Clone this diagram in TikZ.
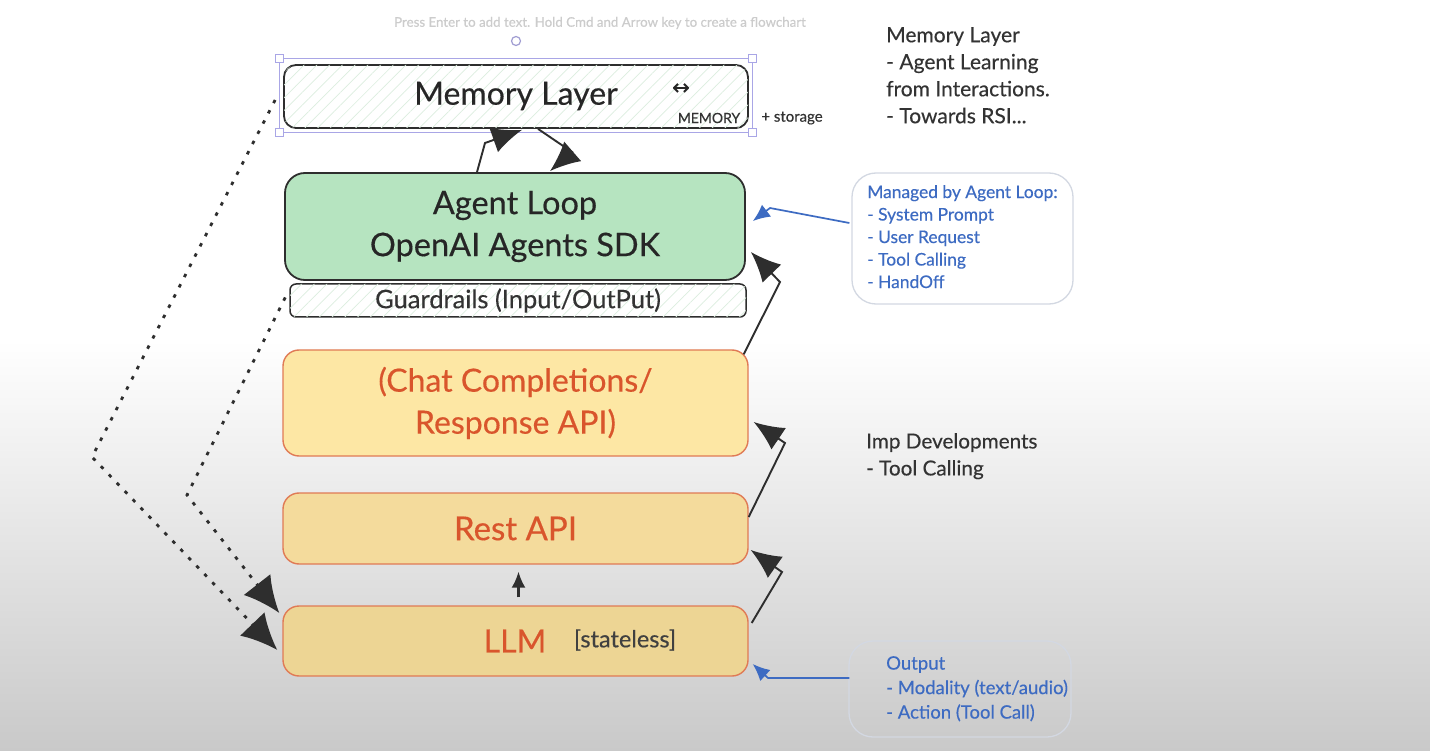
\documentclass[tikz,border=0pt]{standalone}
\usepackage{fontspec}
\setmainfont{Lato}[FakeBold=0.35]
\newfontfamily\symfont{DejaVu Sans}[FakeBold=0.6]
\usetikzlibrary{arrows.meta,patterns.meta}

\definecolor{loopgreen}{HTML}{B6E4C0}
\definecolor{hatchgreen}{HTML}{DCEEDF}
\definecolor{chatyellow}{HTML}{FDE7A4}
\definecolor{restyellow}{HTML}{F4DB9C}
\definecolor{llmyellow}{HTML}{EDD594}
\definecolor{apiedge}{HTML}{E07A55}
\definecolor{apitext}{HTML}{D9552C}
\definecolor{edgegray}{HTML}{2E2E2E}
\definecolor{notegray}{HTML}{D3D8E2}
\definecolor{noteblue}{HTML}{3D6BC2}
\definecolor{selpurple}{HTML}{A9A6E6}
\definecolor{bggray}{HTML}{C9C9C9}

\newcommand{\fsz}[2]{\fontsize{#1}{#2}\selectfont}

\tikzset{
  layer/.style={rectangle, draw=edgegray, line width=1.8pt, inner sep=0pt},
  hatched/.style={fill=white, postaction={pattern={Lines[angle=45,distance=9pt,line width=0.7pt]}, pattern color=hatchgreen}},
  apibox/.style={rectangle, draw=apiedge, line width=1.4pt, rounded corners=16pt, inner sep=0pt,
    minimum width=465pt, text=apitext, font=\fsz{32}{42}, align=center},
  notebox/.style={rectangle, draw=notegray, line width=1.3pt, rounded corners=24pt, inner sep=0pt},
  link/.style={line width=1.9pt, draw=edgegray, -{Latex[length=30pt,width=26pt]}},
  bluelink/.style={line width=1.7pt, draw=noteblue, -{Latex[length=17pt,width=15pt]}},
  dotlink/.style={line width=2.8pt, draw=edgegray, dash pattern=on 3.5pt off 8pt,
    -{Latex[length=36pt,width=34pt]}},
  handle/.style={rectangle, draw=selpurple, fill=white, line width=1pt, minimum size=8pt, inner sep=0pt}
}

\begin{document}
\begin{tikzpicture}[x=1pt, y=-1pt]
  \useasboundingbox (0,0) rectangle (1430,751);
  \fill[white] (0,0) rectangle (1430,751);
  \shade[top color=white, bottom color=bggray] (0,340) rectangle (1430,751);

  % editor hint and selection
  \node[text=gray!40, font=\fsz{13.3}{15}] (hint) at (600,23) {Press Enter to add text. Hold Cmd and Arrow key to create a flowchart};
  \draw[selpurple!80!gray, line width=1.2pt] (516,41) circle (4.5);
  \draw[selpurple, line width=1pt] (279,59) rectangle (752,133);
  \foreach \hx/\hy in {279/59, 752/59, 279/133, 752/133}
    \node[handle] at (\hx,\hy) {};

  % layers
  \node[layer, hatched, rounded corners=12pt, minimum width=464pt, minimum height=63pt] (mem) at (516,96.5) {};
  \node[text=black!85, font=\fsz{32}{36}] (memtext) at (516,96) {Memory Layer};
  \node[font=\symfont\fsz{21}{24}, text=black!85] (memarrow) at (681,89) {↔};
  \node[font=\fsz{14}{16}, text=black!80] (memtag) at (709,118) {MEMORY};
  \node[font=\fsz{15}{17}, text=black!80] (storage) at (792,118) {+ storage};

  \node[layer, fill=loopgreen, rounded corners=20pt, minimum width=460pt, minimum height=107pt,
    font=\fsz{32.5}{42}, text=black!85, align=center] (agent) at (515,226.5) {Agent Loop\\OpenAI Agents SDK};
  \node[layer, hatched, rounded corners=6pt, line width=1.5pt, minimum width=456pt, minimum height=33pt,
    font=\fsz{25.5}{28}, text=black!80] (guard) at (518,300.5) {Guardrails (Input/OutPut)};

  \node[apibox, fill=chatyellow, minimum height=106pt] (chat) at (515.5,403) {(Chat Completions/\\Response API)};
  \node[apibox, fill=restyellow, minimum height=71pt, font=\fsz{33}{40}] (rest) at (515.5,528.5) {Rest API};
  \node[apibox, fill=llmyellow, minimum height=70pt] (llm) at (515.5,641) {};
  \node[text=apitext, font=\fsz{32}{36}] (llmtext) at (515,641) {LLM};
  \node[text=black!75, font=\fsz{23.5}{26}] (stateless) at (625,640) {[stateless]};

  % side notes
  \node[anchor=north west, align=left, inner sep=0pt, text=black!80, font=\fsz{21}{27}] (memnote) at (886,27)
    {Memory Layer\\- Agent Learning\\from Interactions.\\- Towards RSI...};
  \node[anchor=north west, align=left, inner sep=0pt, text=black!80, font=\fsz{20.7}{27}] (impnote) at (866,433)
    {Imp Developments\\- Tool Calling};

  \node[notebox, fill=white, minimum width=221pt, minimum height=131pt] (managed) at (962.5,238.5) {};
  \node[anchor=north west, align=left, inner sep=0pt, text=noteblue, font=\fsz{17.4}{22.5}] (managedtext) at (867,185)
    {Managed by Agent Loop:\\- System Prompt\\- User Request\\- Tool Calling\\- HandOff};
  \node[notebox, minimum width=222pt, minimum height=96pt] (output) at (960,689) {};
  \node[anchor=north west, align=left, inner sep=0pt, text=noteblue, font=\fsz{18.5}{24.5}] (outputtext) at (886,656)
    {Output\\- Modality (text/audio)\\- Action (Tool Call)};

  % connectors
  \draw[link] ([shift={(-38,0)}]agent.north) -- (485,143) -- ([shift={(6,1)}]mem.south);
  \draw[link] ([shift={(22,0)}]mem.south) -- (572,152) -- ([shift={(35,-1)}]agent.north);
  \draw[link] ([shift={(-5,5)}]chat.north east) -- (780,282) -- ([shift={(5,25.5)}]agent.east);
  \draw[link] ([shift={(0,-11.5)}]rest.east) -- (785,443) -- ([shift={(5,19)}]chat.east);
  \draw[link] ([shift={(3,-18)}]llm.east) -- (782,572) -- ([shift={(2,21.5)}]rest.east);
  \draw[line width=2.2pt, draw=edgegray, -{Latex[length=16pt,width=14pt]}] ([shift={(3,-8)}]llm.north) -- ([shift={(3,7)}]rest.south);

  \draw[bluelink] ([shift={(-2,-15.5)}]managed.west) -- (770,208) -- ([shift={(7,-5.5)}]agent.east);
  \draw[bluelink] ([shift={(1,-11)}]output.west) -- (768,678) -- ([shift={(4,23)}]llm.east);

  \draw[dotlink] ([shift={(-8,3.5)}]mem.west) -- (92,457) -- ([shift={(-5,9)}]llm.west);
  \draw[dotlink] ([shift={(-4,-3)}]guard.west) -- (187,495) -- ([shift={(-3,-28)}]llm.west);
\end{tikzpicture}
\end{document}
